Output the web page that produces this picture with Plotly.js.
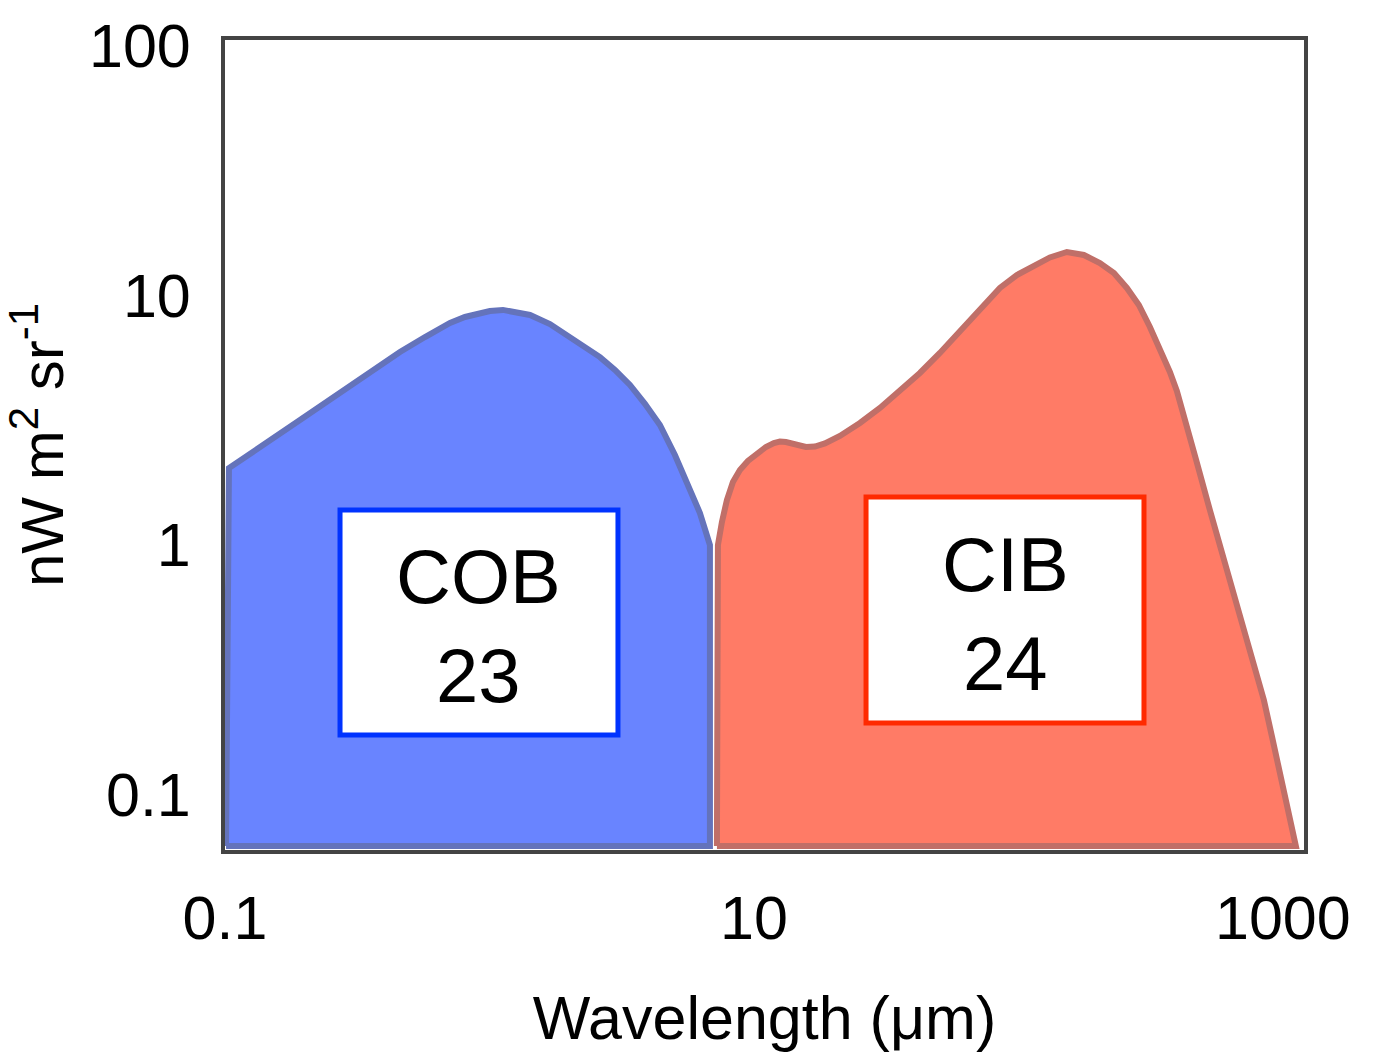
<!DOCTYPE html>
<html>
<head>
<meta charset="utf-8">
<script src="https://cdn.plot.ly/plotly-3.0.1.min.js"></script>
<style>
html,body{margin:0;padding:0;background:#fff;}
#chart{width:1389px;height:1052px;}
</style>
</head>
<body>
<div id="chart"></div>
<script>
// ---- data (wavelength in µm, brightness in nW m^-2 sr^-1) ----
const cobWavelength = [0.1009, 0.1035, 0.1921, 0.4587, 0.5705, 0.7091, 0.8080, 0.9206, 1.004, 1.125, 1.249, 1.423, 1.693, 1.963, 2.297, 2.617, 2.982, 3.398, 3.872, 4.412, 5.027, 5.728, 6.249, 6.818, 6.818, 0.1009];
const cobBrightness = [0.0622, 2.03, 3.16, 5.92, 6.80, 7.74, 8.18, 8.49, 8.64, 8.73, 8.60, 8.33, 7.66, 6.93, 6.26, 5.65, 5.02, 4.37, 3.67, 3.02, 2.29, 1.66, 1.342, 0.999, 0.0622, 0.0622];

const cibWavelength = [7.246, 7.310, 7.568, 7.905, 8.329, 8.852, 9.491, 10.26, 11.10, 11.90, 12.54, 13.21, 14.17, 15.73, 17.01, 18.56, 21.14, 25.17, 29.96, 35.65, 42.43, 50.49, 60.09, 71.51, 85.13, 98.70, 113.4, 131.6, 152.5, 176.8, 203.3, 229.7, 257.2, 285.5, 314.3, 342.8, 374.0, 397.4, 418.7, 469.0, 529.7, 588.0, 658.4, 750.3, 847.7, 908.7, 991.3, 1063, 1120, 7.246];
const cibBrightness = [0.0622, 0.999, 1.235, 1.513, 1.786, 1.995, 2.168, 2.312, 2.466, 2.559, 2.595, 2.583, 2.524, 2.466, 2.477, 2.547, 2.730, 3.077, 3.534, 4.133, 4.880, 5.869, 7.122, 8.724, 10.69, 12.04, 13.09, 14.16, 14.89, 14.49, 13.46, 12.27, 10.69, 9.135, 7.458, 6.145, 4.925, 4.133, 3.437, 2.208, 1.379, 0.928, 0.602, 0.3795, 0.2392, 0.1716, 0.1133, 0.0813, 0.0622, 0.0622];

const xTickVals = [0.1, 10, 1000];
const xTickText = ["0.1", "10", "1000"];
const yTickVals = [0.1, 1, 10, 100];
const yTickText = ["0.1", "1", "10", "100"];

const cobLabel = "COB";
const cobTotal = "23";
const cibLabel = "CIB";
const cibTotal = "24";

// ---- chart ----
const FONT = "Liberation Sans, Arial, Helvetica, sans-serif";

const traces = [
  {
    x: cobWavelength, y: cobBrightness,
    type: "scatter", mode: "lines", fill: "toself",
    fillcolor: "#6984ff",
    line: {color: "#6473bb", width: 6, shape: "linear"},
    hoverinfo: "skip", showlegend: false
  },
  {
    x: cibWavelength, y: cibBrightness,
    type: "scatter", mode: "lines", fill: "toself",
    fillcolor: "#ff7b66",
    line: {color: "#c06f68", width: 6, shape: "linear"},
    hoverinfo: "skip", showlegend: false
  }
];

const layout = {
  width: 1389, height: 1052,
  margin: {l: 225, r: 85, t: 40, b: 202, pad: 0},
  paper_bgcolor: "#fff", plot_bgcolor: "#fff",
  font: {family: FONT, color: "#000"},
  showlegend: false,
  xaxis: {
    type: "log",
    range: [-1.0, 3.08],
    tickvals: xTickVals, ticktext: xTickText,
    ticks: "", ticklabelstandoff: 12,
    tickfont: {size: 61, family: FONT, color: "#000"},
    showgrid: false, zeroline: false,
    showline: true, linecolor: "#444", linewidth: 4, mirror: true,
    title: {text: "Wavelength (μm)", font: {size: 61, family: FONT, color: "#000"}, standoff: 60},
    fixedrange: true
  },
  yaxis: {
    type: "log",
    range: [-1.222, 2.022],
    tickvals: yTickVals, ticktext: yTickText,
    ticks: "", ticklabelstandoff: 18,
    tickfont: {size: 61, family: FONT, color: "#000"},
    showgrid: false, zeroline: false,
    showline: true, linecolor: "#444", linewidth: 4, mirror: true,
    title: {text: "nW m<sup>2</sup> sr<sup>-1</sup>", font: {size: 60, family: FONT, color: "#000"}, standoff: 13},
    fixedrange: true
  },
  shapes: [
    {type: "rect", xref: "paper", yref: "paper", x0: 0.1066, x1: 0.3642, y0: 0.142, y1: 0.4198,
     fillcolor: "#fff", line: {color: "#0033ff", width: 5}, layer: "above"},
    {type: "rect", xref: "paper", yref: "paper", x0: 0.5941, x1: 0.8517, y0: 0.1568, y1: 0.4358,
     fillcolor: "#fff", line: {color: "#ff2a00", width: 5}, layer: "above"}
  ],
  annotations: [
    {xref: "paper", yref: "paper", x: 0.2345, y: 0.2765, xanchor: "center", yanchor: "middle",
     text: cobLabel + "<br>" + cobTotal, showarrow: false,
     font: {size: 76, family: FONT, color: "#000"}},
    {xref: "paper", yref: "paper", x: 0.7229, y: 0.2914, xanchor: "center", yanchor: "middle",
     text: cibLabel + "<br>" + cibTotal, showarrow: false,
     font: {size: 76, family: FONT, color: "#000"}}
  ]
};

Plotly.newPlot("chart", traces, layout, {staticPlot: true, displayModeBar: false});
</script>
</body>
</html>
